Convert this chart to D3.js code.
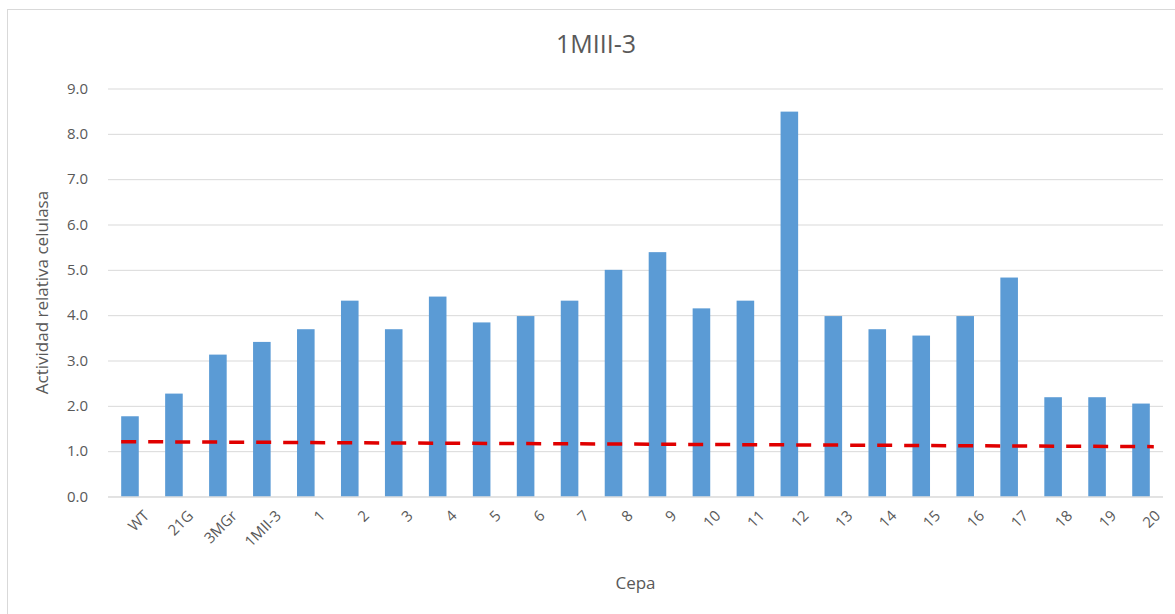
<!DOCTYPE html>
<html>
<head>
<meta charset="utf-8">
<script src="https://cdn.jsdelivr.net/npm/d3@7"></script>
<style>
  html, body { margin: 0; padding: 0; background: #fff; }
  svg { display: block; font-family: "Open Sans", "Noto Sans", sans-serif; }
</style>
</head>
<body>
<svg id="chart" width="1175" height="614"></svg>
<script>
// Strains tested
const cepas = ["WT", "21G", "3MGr", "1MII-3", "1", "2", "3", "4", "5", "6", "7", "8",
               "9", "10", "11", "12", "13", "14", "15", "16", "17", "18", "19", "20"];
// Relative cellulase activity per strain
const actividad = [1.77, 2.27, 3.13, 3.41, 3.69, 4.32, 3.69, 4.41, 3.84, 3.98, 4.32, 5.00,
                   5.39, 4.15, 4.32, 8.49, 3.98, 3.69, 3.55, 3.98, 4.83, 2.19, 2.19, 2.05];
// Reference level (start and end of the dashed line)
const referencia = [1.21, 1.10];
// Y axis ticks
const yTicks = [0, 1, 2, 3, 4, 5, 6, 7, 8, 9];

const svg = d3.select("#chart");
const W = 1175, H = 614;
const margin = { left: 108, right: 12, top: 88.5, bottom: 117.5 };
const plotW = W - margin.left - margin.right;
const plotH = H - margin.top - margin.bottom;

// Chart frame
svg.append("rect")
  .attr("x", 7.5).attr("y", 9.5)
  .attr("width", W + 20).attr("height", H + 20)
  .attr("fill", "#fff").attr("stroke", "#d9d9d9").attr("stroke-width", 1);

const g = svg.append("g").attr("transform", `translate(${margin.left},${margin.top})`);

const x = d3.scaleBand().domain(cepas).range([0, plotW]).paddingInner(0.6).paddingOuter(0.3);
const y = d3.scaleLinear().domain([0, 9]).range([plotH, 0]);

// Gridlines
g.append("g")
  .call(d3.axisLeft(y).tickValues(yTicks).tickSize(-plotW).tickFormat(""))
  .call(a => a.select(".domain").remove())
  .call(a => a.selectAll("line").attr("stroke", "#d9d9d9").attr("stroke-width", 1));

// Y tick labels
g.append("g")
  .call(d3.axisLeft(y).tickValues(yTicks).tickSize(0).tickPadding(20).tickFormat(d3.format(".1f")))
  .call(a => a.select(".domain").remove())
  .call(a => a.selectAll("text").attr("fill", "#595959").style("font-size", "15px")
    .style("font-family", "'Open Sans', sans-serif"));

// Bars
g.append("g").selectAll("rect")
  .data(cepas)
  .join("rect")
  .attr("x", d => x(d))
  .attr("width", x.bandwidth())
  .attr("y", (d, i) => y(actividad[i]))
  .attr("height", (d, i) => y(0) - y(actividad[i]))
  .attr("fill", "#5b9bd5");

// X axis
g.append("g")
  .attr("transform", `translate(0,${plotH})`)
  .call(d3.axisBottom(x).tickSize(0).tickPadding(12))
  .call(a => a.select(".domain").attr("stroke", "#d9d9d9").attr("d", `M0,0.5H${plotW}`))
  .call(a => a.selectAll("text")
    .attr("fill", "#595959")
    .style("font-size", "15px")
    .style("font-family", "'Open Sans', sans-serif")
    .attr("text-anchor", "end")
    .attr("dy", "0.35em")
    .attr("transform", "translate(8,8) rotate(-45)"));

// Dashed reference line
const xStart = x(cepas[0]);
const xEnd = x(cepas[cepas.length - 1]) + x.bandwidth() + 4;
const xr = d3.scaleLinear().domain([0, referencia.length - 1]).range([xStart, xEnd]);
g.append("path")
  .datum(referencia)
  .attr("d", d3.line().x((d, i) => xr(i)).y(d => y(d)))
  .attr("fill", "none")
  .attr("stroke", "#e00000")
  .attr("stroke-width", 3.5)
  .attr("stroke-dasharray", "15,12");

// Title
svg.append("text")
  .attr("x", 596).attr("y", 53)
  .attr("text-anchor", "middle")
  .attr("fill", "#595959")
  .style("font-size", "25px")
  .text("1MIII-3");

// Axis titles
svg.append("text")
  .attr("transform", `translate(48,${margin.top + plotH / 2}) rotate(-90)`)
  .attr("text-anchor", "middle")
  .attr("fill", "#595959")
  .style("font-size", "17px")
  .text("Actividad relativa celulasa");

svg.append("text")
  .attr("x", margin.left + plotW / 2).attr("y", 589)
  .attr("text-anchor", "middle")
  .attr("fill", "#595959")
  .style("font-size", "17px")
  .text("Cepa");
</script>
</body>
</html>
